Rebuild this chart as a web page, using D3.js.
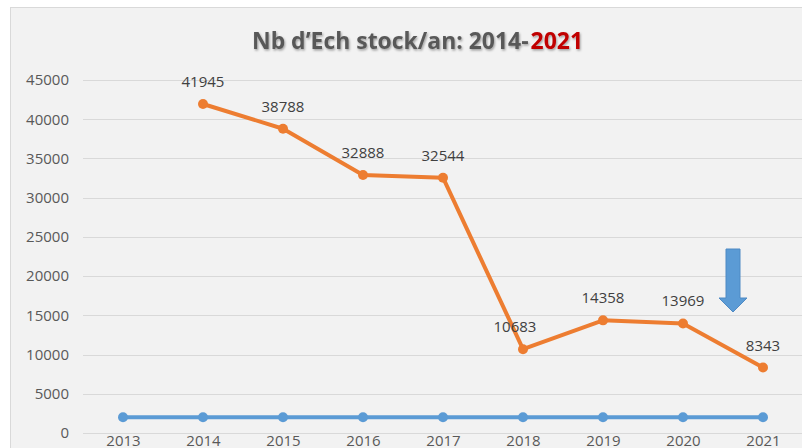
<!DOCTYPE html>
<html>
<head>
<meta charset="utf-8">
<script src="https://cdn.jsdelivr.net/npm/d3@7"></script>
<style>
  body { margin: 0; background: #fff; }
  svg { display: block; font-family: "Open Sans", "Liberation Sans", sans-serif; }
</style>
</head>
<body>
<svg id="chart" width="802" height="448"></svg>
<script>
// data
const years = ["2013", "2014", "2015", "2016", "2017", "2018", "2019", "2020", "2021"];
const stock = [null, 41945, 38788, 32888, 32544, 10683, 14358, 13969, 8343];
const baseline = [2000, 2000, 2000, 2000, 2000, 2000, 2000, 2000, 2000];
const yTicks = [0, 5000, 10000, 15000, 20000, 25000, 30000, 35000, 40000, 45000];

const svg = d3.select("#chart");
const W = 802, H = 448;

// chart frame
svg.append("rect")
  .attr("x", 10.5).attr("y", 7.5)
  .attr("width", W).attr("height", H)
  .attr("fill", "#f2f2f2")
  .attr("stroke", "#d9d9d9");

const x = d3.scalePoint().domain(years).range([123, 763]);
const y = d3.scaleLinear().domain([0, 45000]).range([433, 80]);

// gridlines
svg.append("g")
  .selectAll("line")
  .data(yTicks)
  .join("line")
  .attr("x1", 83).attr("x2", W)
  .attr("y1", d => Math.round(y(d)) + 0.5)
  .attr("y2", d => Math.round(y(d)) + 0.5)
  .attr("stroke", "#d9d9d9");

// y axis labels
const yAxis = svg.append("g")
  .attr("transform", "translate(69,0)")
  .call(d3.axisLeft(y).tickValues(yTicks).tickSize(0).tickPadding(0).tickFormat(d3.format("d")));
yAxis.select(".domain").remove();
yAxis.selectAll("text")
  .attr("fill", "#595959")
  .style("font-size", "15px")
  .style("font-family", "Open Sans, sans-serif");

// x axis labels (cut by the bottom edge, as in the original)
const xAxis = svg.append("g")
  .attr("transform", "translate(0,433)")
  .call(d3.axisBottom(x).tickSize(0).tickPadding(2));
xAxis.select(".domain").remove();
xAxis.selectAll("text")
  .attr("fill", "#595959")
  .style("font-size", "15px")
  .style("font-family", "Open Sans, sans-serif");

// blue series
const blueLine = d3.line()
  .x((d, i) => x(years[i]))
  .y(d => y(d));
svg.append("path")
  .datum(baseline)
  .attr("d", blueLine)
  .attr("fill", "none")
  .attr("stroke", "#5b9bd5")
  .attr("stroke-width", 4);
svg.append("g")
  .selectAll("circle")
  .data(baseline)
  .join("circle")
  .attr("cx", (d, i) => x(years[i]))
  .attr("cy", d => y(d))
  .attr("r", 5)
  .attr("fill", "#5b9bd5");

// orange series
const pts = years.map((yr, i) => ({ yr, v: stock[i] })).filter(d => d.v != null);
const orangeLine = d3.line()
  .x(d => x(d.yr))
  .y(d => y(d.v));
svg.append("path")
  .datum(pts)
  .attr("d", orangeLine)
  .attr("fill", "none")
  .attr("stroke", "#ed7d31")
  .attr("stroke-width", 4)
  .attr("stroke-linejoin", "round");
svg.append("g")
  .selectAll("circle")
  .data(pts)
  .join("circle")
  .attr("cx", d => x(d.yr))
  .attr("cy", d => y(d.v))
  .attr("r", 5)
  .attr("fill", "#ed7d31");

// data labels
const labelDx = { "2018": -8 };
svg.append("g")
  .selectAll("text")
  .data(pts)
  .join("text")
  .attr("x", d => x(d.yr) + (labelDx[d.yr] || 0))
  .attr("y", d => y(d.v) - 17)
  .attr("text-anchor", "middle")
  .attr("fill", "#404040")
  .style("font-size", "15px")
  .text(d => d.v);

// down arrow near 2021
const ax = (x("2020") + x("2021")) / 2 + 10;
svg.append("path")
  .attr("d", `M${ax - 7},249 L${ax + 7},249 L${ax + 7},298 L${ax + 14},298 L${ax},312 L${ax - 14},298 L${ax - 7},298 Z`)
  .attr("fill", "#5b9bd5")
  .attr("stroke", "#4f8ac4")
  .attr("stroke-width", 1);

// title: two pieces, second one in red
const defs = svg.append("defs");
const f = defs.append("filter").attr("id", "shadow").attr("x", "-10%").attr("y", "-30%").attr("width", "120%").attr("height", "160%");
f.append("feDropShadow").attr("dx", 1).attr("dy", 1.5).attr("stdDeviation", 1).attr("flood-color", "#000").attr("flood-opacity", 0.35);

const titleParts = [
  { text: "Nb d\u2019Ech stock/an: 2014-", color: "#595959" },
  { text: "2021", color: "#c00000" }
];
const titleLeft = 252, titleWidth = 331, gap = 2;
const tnodes = titleParts.map(p => svg.append("text")
  .attr("y", 49)
  .attr("filter", "url(#shadow)")
  .style("font-family", "Open Sans, sans-serif")
  .style("font-size", "24px")
  .style("font-weight", "bold")
  .attr("fill", p.color)
  .text(p.text));
const widths = tnodes.map(t => t.node().getComputedTextLength());
const k = (titleWidth - gap) / d3.sum(widths);
let cx = titleLeft;
tnodes.forEach((t, i) => {
  t.attr("x", cx)
    .attr("textLength", widths[i] * k)
    .attr("lengthAdjust", "spacingAndGlyphs");
  cx += widths[i] * k + gap;
});
</script>
</body>
</html>
